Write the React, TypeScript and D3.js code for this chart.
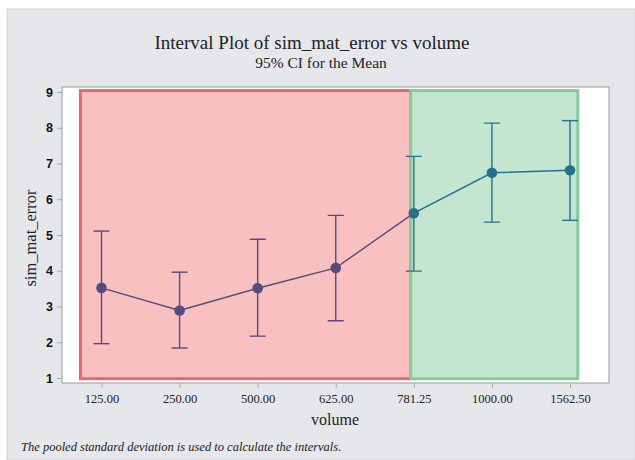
import { useEffect, useRef } from 'react';
import * as d3 from 'd3';

// volume levels (categorical x)
const volumes = ['125.00', '250.00', '500.00', '625.00', '781.25', '1000.00', '1562.50'];
// means and 95% CI bounds
const means = [3.52, 2.89, 3.51, 4.08, 5.61, 6.74, 6.81];
const lower = [1.96, 1.84, 2.17, 2.6, 3.99, 5.36, 5.41];
const upper = [5.11, 3.96, 4.88, 5.55, 7.2, 8.13, 8.2];
const yTicks = [1, 2, 3, 4, 5, 6, 7, 8, 9];

// shaded regions, in category units (index space)
const redRegion = { from: -0.27, to: 3.96, y0: 0.98, y1: 9.04 };
const greenRegion = { from: 3.96, to: 6.1, y0: 0.98, y1: 9.04 };

const W = 635;
const H = 460;
const serif = '"Liberation Serif", "Times New Roman", serif';
const sans = '"Liberation Sans", Arial, sans-serif';

export default function App() {
  const svgRef = useRef<SVGSVGElement | null>(null);

  useEffect(() => {
    const svg = d3.select(svgRef.current);
    svg.selectAll('*').remove();

    const plot = { left: 62, right: 609, top: 87, bottom: 383 };

    // background panel
    svg.append('rect').attr('width', W).attr('height', H).attr('fill', '#fff');
    svg.append('rect')
      .attr('x', 7).attr('y', 9).attr('width', W - 7).attr('height', H - 9)
      .attr('fill', '#e6e7ea').attr('stroke', '#d2d3d6').attr('stroke-width', 1);

    // titles
    svg.append('text')
      .attr('x', 312).attr('y', 49).attr('text-anchor', 'middle')
      .attr('font-family', serif).attr('font-size', 19).attr('fill', '#222')
      .text('Interval Plot of sim_mat_error vs volume');
    svg.append('text')
      .attr('x', 321).attr('y', 68).attr('text-anchor', 'middle')
      .attr('font-family', serif).attr('font-size', 15.5).attr('fill', '#222')
      .text('95% CI for the Mean');

    const x = d3.scaleLinear().domain([0, 6]).range([101.5, 570]);
    const y = d3.scaleLinear().domain([1, 9]).range([378, 92]);

    // plot area
    svg.append('rect')
      .attr('x', plot.left).attr('y', plot.top)
      .attr('width', plot.right - plot.left).attr('height', plot.bottom - plot.top)
      .attr('fill', '#fff').attr('stroke', '#a9aaad').attr('stroke-width', 1.2);

    // regions
    const regions = [
      { r: redRegion, fill: '#f9c0c0', stroke: '#d96f70' },
      { r: greenRegion, fill: '#c4e6d0', stroke: '#86cc9a' },
    ];
    regions.forEach(({ r, fill, stroke }) => {
      svg.append('rect')
        .attr('x', x(r.from)).attr('y', y(r.y1))
        .attr('width', x(r.to) - x(r.from)).attr('height', y(r.y0) - y(r.y1))
        .attr('fill', fill).attr('stroke', stroke).attr('stroke-width', 3);
    });

    // y axis
    const yAxis = svg.append('g').attr('transform', `translate(${plot.left},0)`)
      .call(d3.axisLeft(y).tickValues(yTicks).tickSize(5).tickFormat(d3.format('d')));
    yAxis.select('.domain').remove();
    yAxis.selectAll('line').attr('stroke', '#a9aaad');
    yAxis.selectAll('text')
      .attr('font-family', sans).attr('font-weight', 'bold').attr('font-size', 12.5)
      .attr('fill', '#111').attr('dx', -1);

    // x axis
    const xAxis = svg.append('g').attr('transform', `translate(0,${plot.bottom})`)
      .call(d3.axisBottom(x).tickValues(d3.range(volumes.length)).tickSize(5)
        .tickFormat((d) => volumes[d as number]));
    xAxis.select('.domain').remove();
    xAxis.selectAll('line').attr('stroke', '#a9aaad');
    xAxis.selectAll('text')
      .attr('font-family', serif).attr('font-size', 12.5).attr('fill', '#222').attr('dy', '0.95em');

    // axis titles
    svg.append('text')
      .attr('x', 335).attr('y', 425).attr('text-anchor', 'middle')
      .attr('font-family', serif).attr('font-size', 16).attr('fill', '#222')
      .text('volume');
    svg.append('text')
      .attr('transform', `translate(36,${(plot.top + plot.bottom) / 2 + 3}) rotate(-90)`)
      .attr('text-anchor', 'middle')
      .attr('font-family', serif).attr('font-size', 16.5).attr('fill', '#222')
      .text('sim_mat_error');

    // footnote
    svg.append('text')
      .attr('x', 21).attr('y', 451)
      .attr('font-family', serif).attr('font-style', 'italic').attr('font-size', 12.5).attr('fill', '#222')
      .text('The pooled standard deviation is used to calculate the intervals.');

    // data, coloured by the region they fall in
    const split = x(redRegion.to);
    const defs = svg.append('defs');
    defs.append('clipPath').attr('id', 'clipL').append('rect')
      .attr('x', 0).attr('y', 0).attr('width', split).attr('height', H);
    defs.append('clipPath').attr('id', 'clipR').append('rect')
      .attr('x', split).attr('y', 0).attr('width', W - split).attr('height', H);

    const pts = volumes.map((v, i) => ({ i, m: means[i], lo: lower[i], hi: upper[i] }));
    const line = d3.line<{ i: number; m: number }>().x((d) => x(d.i)).y((d) => y(d.m));

    [
      { clip: 'clipL', color: '#574a80' },
      { clip: 'clipR', color: '#23718c' },
    ].forEach(({ clip, color }) => {
      const g = svg.append('g').attr('clip-path', `url(#${clip})`);
      g.append('path').attr('d', line(pts)).attr('fill', 'none')
        .attr('stroke', color).attr('stroke-width', 1.4);
      const bars = g.selectAll('g.bar').data(pts).join('g').attr('class', 'bar');
      bars.append('line')
        .attr('x1', (d) => x(d.i)).attr('x2', (d) => x(d.i))
        .attr('y1', (d) => y(d.lo)).attr('y2', (d) => y(d.hi))
        .attr('stroke', color).attr('stroke-width', 1.4);
      bars.selectAll('line.cap')
        .data((d) => [d.lo, d.hi].map((v) => ({ i: d.i, v })))
        .join('line').attr('class', 'cap')
        .attr('x1', (d) => x(d.i) - 8).attr('x2', (d) => x(d.i) + 8)
        .attr('y1', (d) => y(d.v)).attr('y2', (d) => y(d.v))
        .attr('stroke', color).attr('stroke-width', 1.4);
      g.selectAll('circle').data(pts).join('circle')
        .attr('cx', (d) => x(d.i)).attr('cy', (d) => y(d.m))
        .attr('r', 5.3).attr('fill', color);
    });
  }, []);

  return (
    <svg ref={svgRef} width={W} height={H}
      style={{ position: 'absolute', left: 0, top: 0, display: 'block' }} />
  );
}
